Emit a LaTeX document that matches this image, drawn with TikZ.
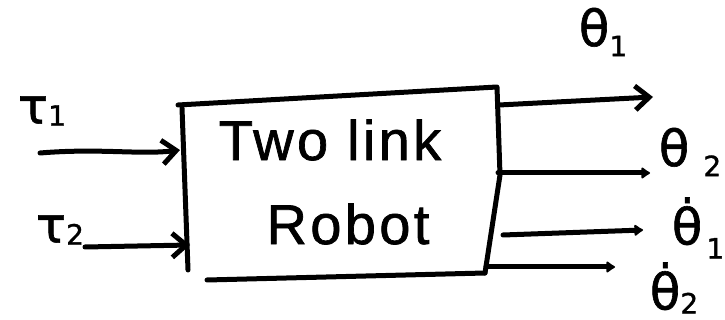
\documentclass[tikz,border=0pt]{standalone}
\usepackage{fontspec}
\newfontfamily\hand[LetterSpace=6,FakeBold=1.2]{Liberation Sans}
\newfontfamily\greek[FakeBold=1.2]{DejaVu Sans}
\usetikzlibrary{arrows.meta}
\newcommand\lowsub[2][-10pt]{\raisebox{#1}{\fontsize{28}{28}\selectfont #2}}
\tikzset{
  stroke/.style={line width=5pt, line cap=round, line join=round},
  barb/.style={stroke, -{Straight Barb[length=14pt,width=24pt,line width=5pt]}},
  blob/.style={stroke, -{Latex[length=10pt,width=14pt,round]}},
  boxtext/.style={font=\hand\fontsize{56}{60}\selectfont, inner sep=0pt},
  sym/.style={font=\greek\fontsize{50}{50}\selectfont, inner sep=0pt}
}
\begin{document}
\begin{tikzpicture}[x=1pt,y=-1pt]
\useasboundingbox (0,0) rectangle (725,320);
% box outline (hand drawn)
\coordinate (tl) at (178,105);
\coordinate (tr) at (497,87);
\coordinate (rm) at (500,175);
\coordinate (br) at (485,273);
\coordinate (bl) at (207,280);
\coordinate (lt) at (182,108);
\coordinate (lb) at (188,270);
\draw[stroke] (tl) -- (tr) -- (rm) -- (br);
\draw[stroke] (lt) -- (lb);
\draw[stroke] (bl) -- (br);
% box text
\node[boxtext] (t1) at (330,140) {Two link};
\node[boxtext] (t2) at (348,224) {Robot};
% inputs
\node[sym] (tau1) at (42,111) {τ\lowsub[-2pt]{1}};
\node[sym] (tau2) at (60,230) {τ\lowsub[-2pt]{2}};
\coordinate (i1s) at (40,153);
\coordinate (i1e) at (180,150);
\coordinate (i2s) at (85,247);
\coordinate (i2e) at (190,245);
\draw[barb] (i1s) .. controls (100,148) and (140,155) .. (i1e);
\draw[barb] (i2s) -- (i2e);
% outputs
\coordinate (o1s) at (499,105);
\coordinate (o1e) at (653,97);
\coordinate (o2s) at (498,173);
\coordinate (o2e) at (650,173);
\coordinate (o3s) at (503,235);
\coordinate (o3e) at (643,230);
\coordinate (o4s) at (486,267);
\coordinate (o4e) at (615,267);
\draw[barb] (o1s) -- (o1e);
\draw[blob] (o2s) -- (o2e);
\draw[blob] (o3s) -- (o3e);
\draw[blob] (o4s) -- (o4e);
\node[sym] (th1) at (603,32) {θ\lowsub{1}};
\node[sym] (th2) at (690,152) {θ\hspace{14pt}\lowsub{2}};
\node[sym] (dth1) at (698,228) {θ̇\hspace{4pt}\lowsub[-14pt]{1}};
\node[sym] (dth2) at (674,288) {θ̇\lowsub[-4pt]{2}};
\end{tikzpicture}
\end{document}
